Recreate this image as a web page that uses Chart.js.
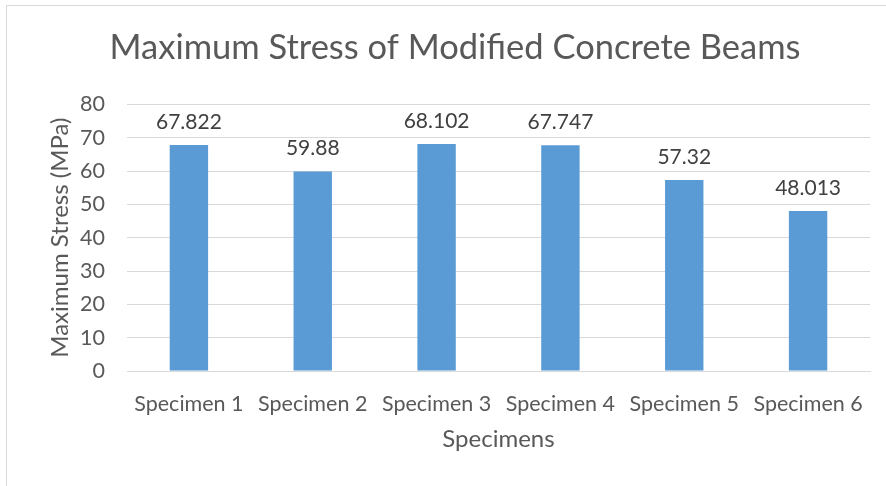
<!DOCTYPE html>
<html>
<head>
<meta charset="utf-8">
<script src="https://cdn.jsdelivr.net/npm/chart.js@4"></script>
<style>
  html, body { margin: 0; padding: 0; background: #fff; overflow: hidden; }
  #wrap { position: relative; width: 886px; height: 486px; }
  #frame { position: absolute; left: 6px; top: 5px; width: 900px; height: 500px; border: 1px solid #d9d9d9; box-sizing: border-box; }
  canvas { position: absolute; left: 0; top: 0; }
</style>
</head>
<body>
<div id="wrap">
  <div id="frame"></div>
  <canvas id="grafico" width="886" height="486"></canvas>
</div>
<script>
const categorias = ["Specimen 1", "Specimen 2", "Specimen 3", "Specimen 4", "Specimen 5", "Specimen 6"]
const tensoes = [67.822, 59.88, 68.102, 67.747, 57.32, 48.013]
const rotulos = ["67.822", "59.88", "68.102", "67.747", "57.32", "48.013"]

const FONTE = "Lato, 'Open Sans', sans-serif"

// rótulos de dados acima das barras
const rotuloPlugin = {
    id: "rotulos",
    afterDatasetsDraw(chart) {
        const ctx = chart.ctx
        const meta = chart.getDatasetMeta(0)
        ctx.save()
        ctx.font = "21px " + FONTE
        ctx.fillStyle = "#404040"
        ctx.textAlign = "center"
        ctx.textBaseline = "alphabetic"
        meta.data.forEach((bar, i) => {
            ctx.fillText(rotulos[i], bar.x, bar.y - 16)
        })
        ctx.restore()
    }
}

new Chart(document.getElementById("grafico"), {
    type: "bar",
    data: {
        labels: categorias,
        datasets: [{
            data: tensoes,
            backgroundColor: "#5b9bd5",
            categoryPercentage: 1,
            barPercentage: 0.31
        }]
    },
    options: {
        responsive: false,
        animation: false,
        layout: { padding: { top: 10, right: 16, left: 40, bottom: 20 } },
        plugins: {
            legend: { display: false },
            tooltip: { enabled: false },
            title: {
                display: true,
                text: "Maximum Stress of Modified Concrete Beams",
                color: "#595959",
                font: { family: FONTE, size: 34.5, weight: "normal" },
                padding: { top: 17, bottom: 36 }
            }
        },
        scales: {
            x: {
                grid: { display: false },
                border: { color: "#d9d9d9" },
                ticks: { color: "#595959", font: { family: FONTE, size: 21.5 }, padding: 12, maxRotation: 0 },
                title: { display: true, text: "Specimens", color: "#595959", font: { family: FONTE, size: 24 }, padding: { top: 0, bottom: 12 } },
                afterFit(scale) { scale.height = 95 }
            },
            y: {
                min: 0,
                max: 80,
                ticks: { stepSize: 10, color: "#595959", font: { family: FONTE, size: 21.5 }, padding: 22 },
                grid: { color: "#d9d9d9", drawTicks: false },
                border: { display: false },
                title: { display: true, text: "Maximum Stress (MPa)", color: "#595959", font: { family: FONTE, size: 24 }, padding: { top: 6, bottom: 0 } },
                afterFit(scale) { scale.width = 87 }
            }
        }
    },
    plugins: [rotuloPlugin]
})
</script>
</body>
</html>
